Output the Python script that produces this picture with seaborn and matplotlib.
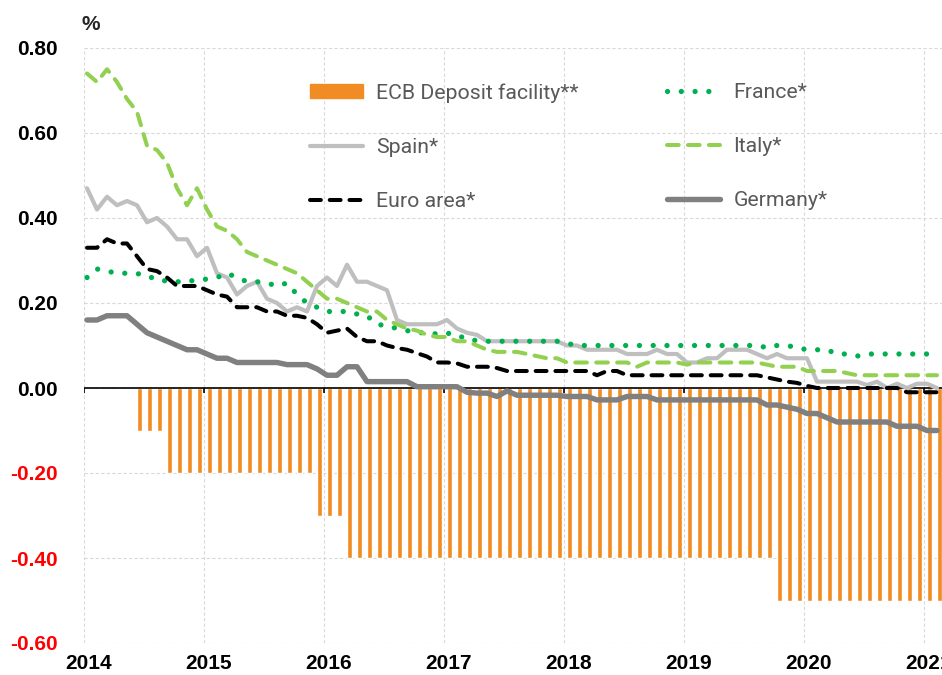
import numpy as np
import pandas as pd
import matplotlib
matplotlib.use('Agg')
import matplotlib.pyplot as plt
import matplotlib.transforms as mtransforms
import seaborn as sns
from matplotlib.patches import Patch
from matplotlib.lines import Line2D
from matplotlib.ticker import FixedLocator, StrMethodFormatter

# ── data: monthly, Jan 2014 .. Feb 2021 (%) ─────────────
ecb = [0.0, 0.0, 0.0, 0.0, 0.0, -0.1, -0.1, -0.1, -0.2, -0.2,
       -0.2, -0.2, -0.2, -0.2, -0.2, -0.2, -0.2, -0.2, -0.2, -0.2,
       -0.2, -0.2, -0.2, -0.3, -0.3, -0.3, -0.4, -0.4, -0.4, -0.4,
       -0.4, -0.4, -0.4, -0.4, -0.4, -0.4, -0.4, -0.4, -0.4, -0.4,
       -0.4, -0.4, -0.4, -0.4, -0.4, -0.4, -0.4, -0.4, -0.4, -0.4,
       -0.4, -0.4, -0.4, -0.4, -0.4, -0.4, -0.4, -0.4, -0.4, -0.4,
       -0.4, -0.4, -0.4, -0.4, -0.4, -0.4, -0.4, -0.4, -0.4, -0.5,
       -0.5, -0.5, -0.5, -0.5, -0.5, -0.5, -0.5, -0.5, -0.5, -0.5,
       -0.5, -0.5, -0.5, -0.5, -0.5, -0.5]

france = [0.26, 0.28, 0.275, 0.27, 0.27, 0.27, 0.26, 0.26, 0.25, 0.25,
          0.25, 0.255, 0.256, 0.26, 0.27, 0.26, 0.25, 0.25, 0.247, 0.24,
          0.247, 0.22, 0.20, 0.19, 0.18, 0.18, 0.18, 0.174, 0.17, 0.15,
          0.146, 0.14, 0.135, 0.13, 0.13, 0.127, 0.13, 0.12, 0.12, 0.11,
          0.11, 0.11, 0.11, 0.11, 0.11, 0.11, 0.11, 0.11, 0.105, 0.10,
          0.10, 0.10, 0.10, 0.10, 0.10, 0.10, 0.10, 0.10, 0.10, 0.10,
          0.10, 0.10, 0.10, 0.10, 0.10, 0.10, 0.10, 0.10, 0.095, 0.10,
          0.10, 0.095, 0.09, 0.09, 0.09, 0.08, 0.08, 0.075, 0.08, 0.08,
          0.08, 0.08, 0.08, 0.08, 0.08, 0.08]

spain = [0.47, 0.42, 0.45, 0.43, 0.44, 0.43, 0.39, 0.40, 0.38, 0.35,
         0.35, 0.31, 0.33, 0.27, 0.26, 0.22, 0.24, 0.25, 0.21, 0.20,
         0.18, 0.19, 0.18, 0.24, 0.26, 0.24, 0.29, 0.25, 0.25, 0.24,
         0.23, 0.16, 0.15, 0.15, 0.15, 0.15, 0.16, 0.14, 0.13, 0.125,
         0.11, 0.11, 0.11, 0.11, 0.11, 0.11, 0.11, 0.11, 0.10, 0.10,
         0.09, 0.09, 0.09, 0.09, 0.08, 0.08, 0.08, 0.09, 0.08, 0.08,
         0.06, 0.06, 0.07, 0.07, 0.09, 0.09, 0.09, 0.08, 0.07, 0.08,
         0.07, 0.07, 0.07, 0.015, 0.015, 0.015, 0.015, 0.015, 0.007, 0.015,
         0.0, 0.01, 0.0, 0.01, 0.01, 0.0]

italy = [0.74, 0.72, 0.75, 0.72, 0.68, 0.65, 0.57, 0.56, 0.53, 0.47,
         0.43, 0.47, 0.42, 0.38, 0.37, 0.35, 0.32, 0.31, 0.30, 0.29,
         0.28, 0.27, 0.25, 0.23, 0.21, 0.21, 0.20, 0.19, 0.18, 0.18,
         0.16, 0.15, 0.14, 0.135, 0.125, 0.12, 0.12, 0.11, 0.11, 0.10,
         0.09, 0.085, 0.085, 0.085, 0.08, 0.075, 0.07, 0.07, 0.06, 0.06,
         0.06, 0.06, 0.06, 0.06, 0.06, 0.05, 0.06, 0.06, 0.06, 0.06,
         0.055, 0.06, 0.06, 0.06, 0.06, 0.06, 0.06, 0.06, 0.055, 0.05,
         0.05, 0.05, 0.04, 0.04, 0.04, 0.04, 0.035, 0.03, 0.03, 0.03,
         0.03, 0.03, 0.03, 0.03, 0.03, 0.03]

euro_area = [0.33, 0.33, 0.35, 0.34, 0.34, 0.31, 0.28, 0.275, 0.26, 0.24,
             0.24, 0.24, 0.23, 0.22, 0.215, 0.19, 0.19, 0.19, 0.18, 0.18,
             0.17, 0.17, 0.165, 0.15, 0.13, 0.135, 0.14, 0.12, 0.11, 0.11,
             0.10, 0.094, 0.09, 0.082, 0.074, 0.06, 0.06, 0.058, 0.05, 0.05,
             0.05, 0.047, 0.04, 0.04, 0.04, 0.04, 0.04, 0.04, 0.04, 0.04,
             0.04, 0.03, 0.04, 0.04, 0.03, 0.03, 0.03, 0.03, 0.03, 0.03,
             0.03, 0.03, 0.03, 0.03, 0.03, 0.03, 0.03, 0.03, 0.025, 0.02,
             0.015, 0.012, 0.005, 0.0, 0.0, 0.0, 0.0, 0.0, 0.0, 0.0,
             0.0, 0.0, -0.01, -0.01, -0.01, -0.01]

germany = [0.16, 0.16, 0.17, 0.17, 0.17, 0.15, 0.13, 0.12, 0.11, 0.10,
           0.09, 0.09, 0.08, 0.07, 0.07, 0.06, 0.06, 0.06, 0.06, 0.06,
           0.055, 0.055, 0.055, 0.045, 0.03, 0.03, 0.05, 0.05, 0.015, 0.015,
           0.015, 0.015, 0.015, 0.003, 0.003, 0.003, 0.003, 0.003, -0.01, -0.012,
           -0.012, -0.02, -0.007, -0.017, -0.017, -0.017, -0.017, -0.017, -0.02, -0.02,
           -0.02, -0.028, -0.028, -0.028, -0.02, -0.02, -0.02, -0.028, -0.028, -0.028,
           -0.028, -0.028, -0.028, -0.028, -0.028, -0.028, -0.028, -0.028, -0.04, -0.04,
           -0.045, -0.05, -0.06, -0.06, -0.07, -0.08, -0.08, -0.08, -0.08, -0.08,
           -0.08, -0.09, -0.09, -0.09, -0.10, -0.10]

years = ['2014', '2015', '2016', '2017', '2018', '2019', '2020', '2021']
y_ticks = [-0.6, -0.4, -0.2, 0.0, 0.2, 0.4, 0.6, 0.8]

months = np.arange(len(ecb))
df = pd.DataFrame({'m': months, 'ECB': ecb, 'France': france, 'Spain': spain,
                   'Italy': italy, 'Euro': euro_area, 'Germany': germany})

sns.set_theme(style='white')
plt.rcParams['font.family'] = ['Liberation Sans', 'DejaVu Sans']
plt.rcParams['axes.unicode_minus'] = False

fig = plt.figure(figsize=(9.42, 6.75), dpi=100)
ax = fig.add_axes([84/942, 32/675, 1 - 84/942, 595/675])

ORANGE = '#F08C23'
c_fr, c_it, c_es, c_de = '#00B050', '#92D050', '#BFBFBF', '#808080'
ls_fr = (0, (0.01, 2.6))
ls_it = (0, (2.9, 2.3))
ls_eu = (0, (2.7, 2.2))

ax.bar(df['m'] + 0.55, df['ECB'], width=0.42, color=ORANGE, zorder=2)

x_line = df['m'] + 0.3
sns.lineplot(x=x_line, y=df['Spain'], ax=ax, color=c_es, lw=3.0, zorder=4)
sns.lineplot(x=x_line, y=df['France'], ax=ax, color=c_fr, lw=3.8,
             linestyle=ls_fr, dash_capstyle='round', zorder=4)
sns.lineplot(x=x_line, y=df['Italy'], ax=ax, color=c_it, lw=2.9,
             linestyle=ls_it, dash_capstyle='round', zorder=5)
sns.lineplot(x=x_line, y=df['Euro'], ax=ax, color='black', lw=2.9,
             linestyle=ls_eu, dash_capstyle='round', zorder=5)
sns.lineplot(x=x_line, y=df['Germany'], ax=ax, color=c_de, lw=3.9, zorder=6)

ax.axhline(0, color='black', lw=1.2, zorder=3)
year_pos = np.arange(len(years)) * 12
ax.vlines(year_pos, -0.012, 0, color='black', lw=1.2, zorder=3)

ax.set_xlim(0, 85.8)
ax.set_ylim(-0.6, 0.8)
ax.xaxis.set_major_locator(FixedLocator(year_pos))
ax.set_xticklabels(years)
ax.yaxis.set_major_locator(FixedLocator(y_ticks))
ax.yaxis.set_major_formatter(StrMethodFormatter('{x:.2f}'))
ax.grid(True, color='#D9D9D9', linestyle=(0, (3, 2)), lw=0.8)
ax.set_axisbelow(True)
for s in ax.spines.values():
    s.set_visible(False)
ax.set_xlabel('')
ax.set_ylabel('')
ax.tick_params(axis='both', length=0, labelsize=15, colors='black')
ax.tick_params(axis='y', pad=19)
ax.tick_params(axis='x', pad=8)
for lab, v in zip(ax.get_yticklabels(), y_ticks):
    lab.set_color('#FF0000' if v < 0 else 'black')
    lab.set_fontweight('bold')
shift = mtransforms.ScaledTranslation(5/100, 0, fig.dpi_scale_trans)
for lab in ax.get_xticklabels():
    lab.set_fontweight('bold')
    lab.set_transform(lab.get_transform() + shift)

fig.text(82/942, 1 - 25/675, '%', fontsize=15, fontweight='bold',
         va='center', ha='left')

# ── legend in two columns ───────────────────────────
leg_kw = dict(frameon=False, handlelength=2.5, handleheight=0.58,
              handletextpad=0.62, labelspacing=1.65, borderpad=0, borderaxespad=0,
              loc='upper left', bbox_transform=fig.transFigure,
              prop={'family': 'Roboto', 'size': 15.3})
h1 = [Patch(color=ORANGE),
      Line2D([], [], color=c_es, lw=3.0),
      Line2D([], [], color='black', lw=2.9, linestyle=ls_eu, dash_capstyle='round')]
h2 = [Line2D([], [], color=c_fr, lw=3.8, linestyle=ls_fr, dash_capstyle='round'),
      Line2D([], [], color=c_it, lw=2.9, linestyle=ls_it, dash_capstyle='round'),
      Line2D([], [], color=c_de, lw=3.9)]
leg1 = ax.legend(h1, ['ECB Deposit facility**', 'Spain*', 'Euro area*'],
                 bbox_to_anchor=(310/942, 1 - 83/675), **leg_kw)
for t in leg1.get_texts():
    t.set_color('#595959')
ax.add_artist(leg1)
leg2 = ax.legend(h2, ['France*', 'Italy*', 'Germany*'],
                 bbox_to_anchor=(667/942, 1 - 83/675), **leg_kw)
for t in leg2.get_texts():
    t.set_color('#595959')

plt.savefig('out.png', dpi=100)
plt.close()
